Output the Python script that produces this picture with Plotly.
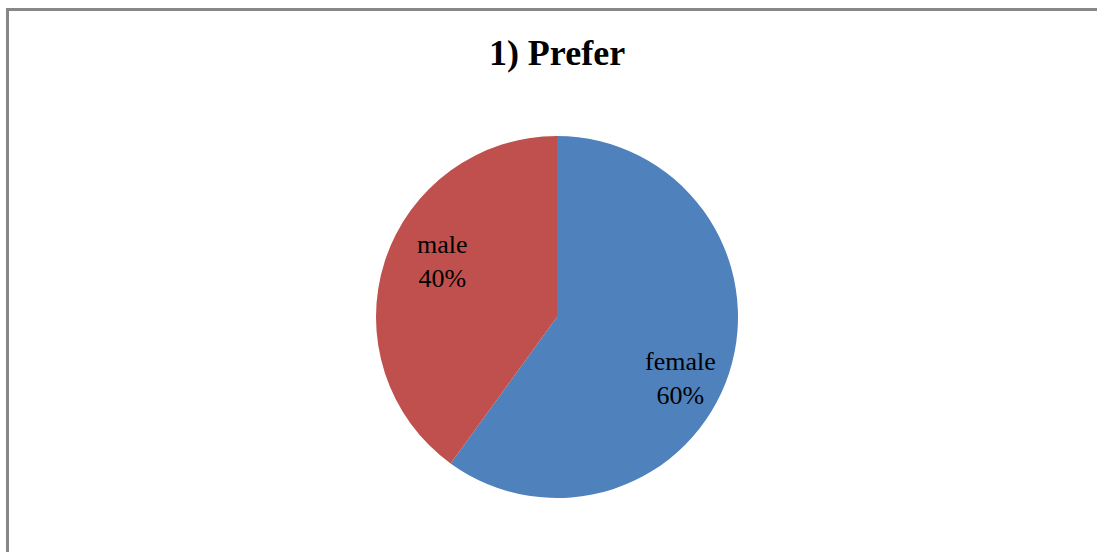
import plotly.graph_objects as go

# Survey answers for question 1
labels = ["female", "male"]
shares = [60, 40]
colors = ["#4F81BD", "#C0504D"]

W, H = 1097, 552
cx, cy, r = 557, 317, 181  # pie centre / radius in px

# label centres (px) for each slice, best-fit style placement
label_pos = {"female": (680, 378), "male": (442, 261)}

fig = go.Figure(
    go.Pie(
        labels=labels,
        values=shares,
        sort=False,
        direction="clockwise",
        rotation=0,
        marker=dict(colors=colors, line=dict(width=0)),
        textinfo="none",
        showlegend=False,
        hoverinfo="label+percent",
        domain=dict(
            x=[(cx - r) / W, (cx + r) / W],
            y=[(H - cy - r) / H, (H - cy + r) / H],
        ),
    )
)

total = sum(shares)
for lab, val in zip(labels, shares):
    px, py = label_pos[lab]
    fig.add_annotation(
        xref="paper",
        yref="paper",
        x=px / W,
        y=1 - py / H,
        xanchor="center",
        yanchor="middle",
        text=f"{lab}<br>{round(100 * val / total)}%",
        showarrow=False,
        align="center",
        font=dict(family="Liberation Serif", size=26, color="black"),
    )

fig.update_layout(
    width=W,
    height=H,
    margin=dict(l=0, r=0, t=0, b=0),
    paper_bgcolor="white",
    title=dict(
        text="<b>1) Prefer</b>",
        x=557 / W,
        xanchor="center",
        y=1 - 52 / H,
        yanchor="middle",
        font=dict(family="Liberation Serif", size=36, color="black"),
    ),
    shapes=[
        dict(
            type="rect",
            xref="paper",
            yref="paper",
            x0=7.5 / W,
            x1=1.05,
            y0=-0.05,
            y1=1 - 9.5 / H,
            line=dict(color="#878787", width=3),
            fillcolor="rgba(0,0,0,0)",
        )
    ],
)

fig.write_html("out.html")
